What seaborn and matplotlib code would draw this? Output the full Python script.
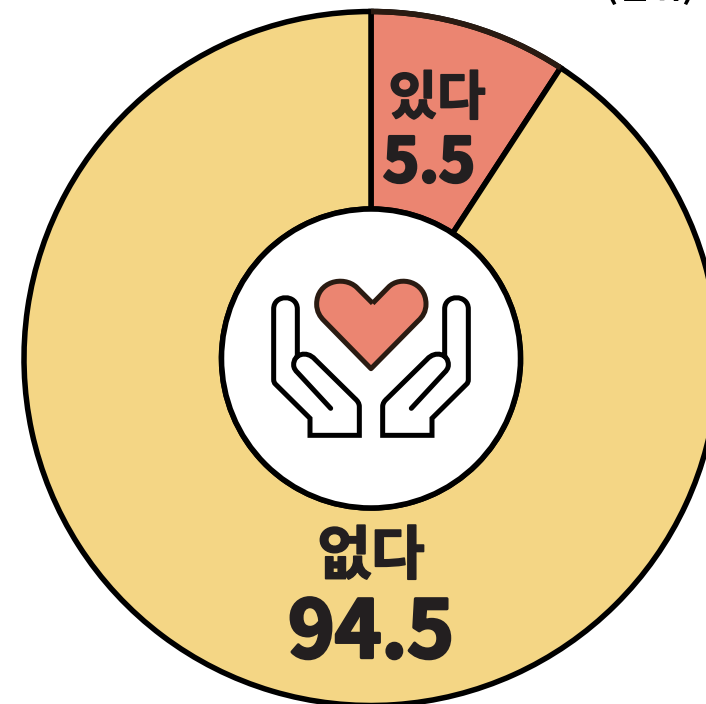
import matplotlib
matplotlib.use("Agg")
import matplotlib.pyplot as plt
import matplotlib.patheffects as pe
import seaborn as sns
from matplotlib.patches import Arc, Circle, PathPatch
from matplotlib.path import Path

# Data as labelled in the chart
labels = ["있다", "없다"]
values = [5.5, 94.5]
value_labels = ["5.5", "94.5"]
# Share of the circle each slice really occupies in the picture (not to scale with the labels)
drawn_shares = [9.2, 90.8]
unit_text = "(단위)"
colors = ["#EB8571", "#F4D685"]

sns.set_theme(style="white")
plt.rcParams["font.family"] = ["Noto Sans CJK KR", "DejaVu Sans"]
INK = "#231F20"
BROWN = "#2A1B12"
W, H = 706, 704
fig = plt.figure(figsize=(W / 100, H / 100), dpi=100)
ax = fig.add_axes([0, 0, 1, 1])
palette = sns.color_palette(colors)

cx, cy = 371, H - 358.5
R_out, R_in = 347, 149.5
lw = 5.5 * 72 / 100

ax.pie(drawn_shares, colors=palette, startangle=90, counterclock=False,
       center=(cx, cy), radius=R_out, frame=True,
       wedgeprops=dict(width=R_out - R_in, edgecolor="black", linewidth=lw))
ax.set_xlim(0, W)
ax.set_ylim(0, H)
ax.set_aspect("equal")
ax.axis("off")

# brown outer rim of the small slice
ax.add_patch(Arc((cx, cy), 2 * R_out, 2 * R_out, theta1=90 - 360 * drawn_shares[0] / 100,
                 theta2=90, color=BROWN, lw=lw, zorder=3))
ax.add_patch(Circle((cx, cy), R_in, facecolor="white", edgecolor="black", lw=lw, zorder=3))


def P(x, y):
    """Icon coordinates (3x crop units) to axes units."""
    return (200 + x / 3, H - (200 + y / 3))


def make(seq, mirror=False):
    verts, codes = [], []
    for code, pts in seq:
        for p in pts:
            x, y = p
            if mirror:
                x = 2 * 513 - x
            verts.append(P(x, y))
            codes.append(code)
    return Path(verts, codes)


M, L, C4 = Path.MOVETO, Path.LINETO, Path.CURVE4
hand = [
    (M, [(292, 468)]), (L, [(292, 327)]),
    (C4, [(292, 282), (221, 282), (221, 327)]),
    (L, [(221, 538)]),
    (C4, [(221, 545), (223, 549), (226, 552)]),
    (L, [(330, 655)]), (L, [(330, 706)]), (L, [(478, 706)]), (L, [(478, 620)]),
    (C4, [(478, 610), (472, 602), (465, 596)]),
    (L, [(345, 478)]),
    (C4, [(320, 450), (280, 462), (281, 495)]),
    (C4, [(281, 505), (287, 512), (292, 517)]),
    (L, [(392, 625)]),
]
for m in (False, True):
    ax.add_patch(PathPatch(make(hand, m), facecolor="none", edgecolor="black", lw=5 * 72 / 100,
                           capstyle="round", joinstyle="miter", zorder=4))

heart = [
    (M, [(518, 310)]), (L, [(470, 262)]),
    (C4, [(430, 225), (350, 245), (350, 312)]),
    (C4, [(350, 335), (360, 350), (372, 362)]),
    (L, [(513, 506)]), (L, [(655, 362)]),
    (C4, [(668, 350), (678, 335), (678, 312)]),
    (C4, [(678, 245), (600, 225), (565, 262)]),
    (L, [(518, 310)]),
]
ax.add_patch(PathPatch(make(heart), facecolor=colors[0], edgecolor=BROWN, lw=5 * 72 / 100,
                       joinstyle="round", zorder=4))


def heavy(width):
    return [pe.withStroke(linewidth=width, foreground=INK)]


ax.text(437, H - 99, labels[0], ha="center", va="center", fontsize=38, fontweight="bold", color=INK,
        zorder=5, path_effects=heavy(1.2))
ax.text(429, H - 164, value_labels[0], ha="center", va="center", fontsize=44, fontweight="bold", color=INK,
        zorder=5, path_effects=heavy(2.2))
ax.text(371, H - 557, labels[1], ha="center", va="center", fontsize=42, fontweight="bold", color=INK,
        zorder=5, path_effects=heavy(1.2))
ax.text(371, H - 634, value_labels[1], ha="center", va="center", fontsize=57, fontweight="bold", color=INK,
        zorder=5, path_effects=heavy(2.4))
ax.text(650, H + 2, unit_text, ha="center", va="baseline", fontsize=25, fontweight="bold", color="black", zorder=5)

fig.savefig("out.png", dpi=100)
